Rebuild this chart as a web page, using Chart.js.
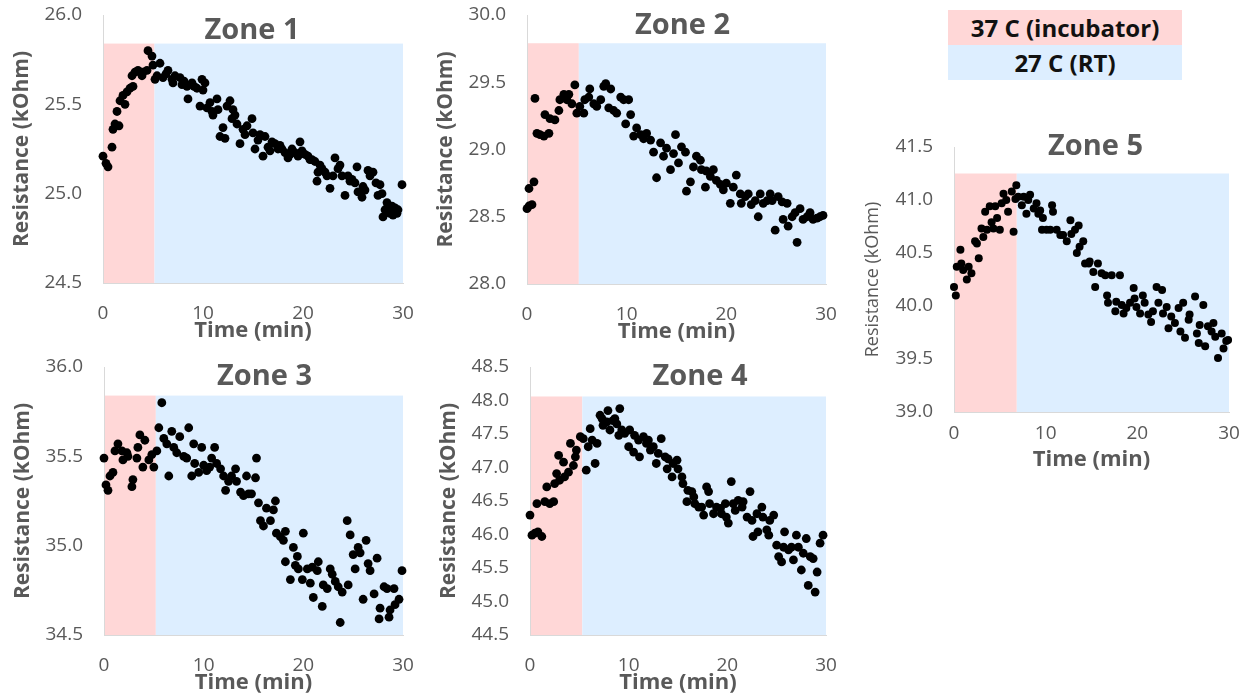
<!DOCTYPE html>
<html>
<head>
<meta charset="utf-8">
<script src="https://cdn.jsdelivr.net/npm/chart.js@4.4.1/dist/chart.umd.min.js"></script>
<style>
  html, body { margin: 0; padding: 0; background: #fff; }
  body { width: 1251px; height: 700px; position: relative; overflow: hidden; font-family: "Open Sans", sans-serif; }
  canvas { position: absolute; }
  .key { position: absolute; left: 948px; width: 234px; height: 35px; line-height: 35px;
         text-align: center; font-weight: bold; font-size: 24px; color: #111; }
</style>
</head>
<body>
<div class="key" style="top:10px;background:#FFD7D7">37 C (incubator)</div>
<div class="key" style="top:45px;background:#DDEEFF">27 C (RT)</div>
<script>
// Resistance readings [time (min), resistance (kOhm)] for each sensing zone
const zone1 = [
  [0.0,25.21],[0.3,25.17],[0.5,25.15],[0.9,25.26],[1.0,25.36],[1.2,25.39],[1.4,25.46],[1.6,25.38],
  [1.7,25.52],[2.0,25.55],[2.2,25.50],[2.4,25.57],[2.7,25.59],[2.9,25.66],[3.0,25.60],[3.2,25.68],
  [3.5,25.69],[3.9,25.66],[4.0,25.68],[4.4,25.69],[4.5,25.80],[4.9,25.77],[5.0,25.72],[5.2,25.64],
  [5.4,25.66],[5.7,25.73],[6.0,25.65],[6.3,25.67],[6.5,25.69],[6.9,25.64],[7.0,25.62],[7.2,25.66],
  [7.7,25.65],[7.9,25.61],[8.1,25.63],[8.4,25.60],[8.5,25.53],[8.9,25.62],[9.1,25.60],[9.4,25.59],
  [9.7,25.49],[9.9,25.64],[10.0,25.58],[10.2,25.62],[10.4,25.48],[10.7,25.51],[10.9,25.46],[11.0,25.44],
  [11.4,25.53],[11.5,25.47],[11.7,25.32],[12.0,25.37],[12.2,25.31],[12.4,25.49],[12.7,25.52],[12.9,25.42],
  [13.0,25.47],[13.2,25.44],[13.4,25.39],[13.7,25.28],[14.0,25.36],[14.2,25.33],[14.4,25.38],[14.9,25.42],
  [15.0,25.34],[15.2,25.25],[15.5,25.30],[15.7,25.33],[16.0,25.21],[16.2,25.32],[16.5,25.26],[16.7,25.24],
  [16.9,25.29],[17.2,25.28],[17.5,25.25],[17.7,25.27],[17.9,25.25],[18.2,25.23],[18.5,25.20],[18.7,25.22],
  [18.9,25.25],[19.2,25.23],[19.5,25.21],[19.7,25.29],[19.9,25.24],[20.2,25.22],[20.5,25.21],[20.7,25.19],
  [20.9,25.19],[21.2,25.18],[21.4,25.07],[21.5,25.12],[21.7,25.16],[21.9,25.14],[22.2,25.12],[22.4,25.10],
  [22.7,25.03],[23.0,25.10],[23.2,25.20],[23.5,25.14],[23.7,25.16],[23.9,25.10],[24.2,24.99],[24.5,25.10],
  [24.7,25.07],[24.9,25.08],[25.2,25.06],[25.4,25.15],[25.5,25.01],[25.9,24.98],[26.0,25.04],[26.2,25.02],
  [26.5,25.13],[26.7,25.10],[27.0,25.12],[27.3,25.06],[27.5,24.99],[27.7,25.05],[27.9,25.00],[28.0,24.87],
  [28.2,24.91],[28.4,24.95],[28.7,24.89],[28.9,24.93],[29.0,24.88],[29.2,24.92],[29.4,24.89],[29.5,24.91],
  [29.9,25.05]
];
const zone2 = [
  [0.0,28.56],[0.2,28.58],[0.5,28.59],[0.2,28.71],[0.7,28.76],[0.8,29.38],[1.0,29.12],[1.3,29.11],
  [1.7,29.10],[2.2,29.12],[1.8,29.26],[2.3,29.23],[2.8,29.22],[3.2,29.29],[3.3,29.37],[3.7,29.41],
  [4.0,29.37],[4.2,29.41],[4.5,29.34],[4.8,29.48],[5.0,29.27],[5.3,29.32],[5.7,29.27],[5.8,29.37],
  [6.2,29.39],[6.3,29.45],[6.7,29.34],[7.0,29.32],[7.4,29.37],[7.7,29.47],[7.9,29.49],[8.4,29.45],
  [8.2,29.31],[8.7,29.29],[9.0,29.27],[9.4,29.39],[9.7,29.37],[10.2,29.37],[9.9,29.19],[10.4,29.26],
  [10.7,29.10],[11.0,29.16],[11.4,29.11],[11.7,29.08],[12.0,29.12],[12.4,29.07],[12.7,28.98],[13.0,28.79],
  [13.4,29.05],[13.7,28.95],[14.0,29.01],[14.4,28.85],[14.7,28.97],[14.9,29.11],[15.2,28.90],[15.5,29.02],
  [15.9,28.98],[16.0,28.69],[16.4,28.76],[16.7,28.87],[17.0,28.95],[17.4,28.92],[17.5,28.85],[17.9,28.72],
  [18.0,28.84],[18.4,28.80],[18.7,28.85],[19.0,28.77],[19.4,28.74],[19.7,28.70],[20.0,28.75],[20.4,28.60],
  [20.7,28.72],[21.0,28.81],[21.4,28.67],[21.5,28.60],[21.9,28.65],[22.2,28.67],[22.5,28.59],[22.9,28.62],
  [23.2,28.50],[23.4,28.67],[23.7,28.60],[24.1,28.62],[24.4,28.67],[24.6,28.62],[24.9,28.40],[25.2,28.65],
  [25.6,28.61],[25.7,28.48],[26.1,28.60],[26.2,28.43],[26.6,28.50],[26.9,28.53],[27.1,28.31],[27.4,28.56],
  [27.7,28.48],[28.1,28.50],[28.4,28.53],[28.7,28.48],[29.1,28.49],[29.4,28.50],[29.7,28.51]
];
const zone3 = [
  [0.0,35.49],[0.2,35.34],[0.4,35.31],[0.6,35.39],[0.9,35.41],[1.1,35.53],[1.4,35.57],[1.8,35.53],
  [1.9,35.48],[2.3,35.52],[2.4,35.50],[2.8,35.33],[2.9,35.37],[3.3,35.49],[3.4,35.55],[3.6,35.62],
  [3.9,35.44],[4.1,35.59],[4.5,35.48],[4.8,35.51],[5.0,35.44],[5.3,35.53],[5.5,35.66],[5.8,35.80],
  [6.0,35.60],[6.3,35.57],[6.5,35.39],[6.8,35.64],[7.0,35.55],[7.3,35.52],[7.6,35.61],[8.0,35.50],
  [8.3,35.49],[8.5,35.66],[8.8,35.39],[9.0,35.57],[9.1,35.46],[9.5,35.41],[9.8,35.55],[10.0,35.45],
  [10.3,35.42],[10.6,35.44],[10.8,35.49],[11.1,35.55],[11.3,35.46],[11.7,35.43],[12.0,35.39],[12.2,35.31],
  [12.5,35.36],[12.8,35.39],[13.2,35.43],[13.3,35.36],[13.7,35.30],[14.0,35.28],[14.3,35.39],[14.5,35.29],
  [14.8,35.29],[15.2,35.38],[15.3,35.49],[15.5,35.24],[15.7,35.14],[16.0,35.11],[16.3,35.21],[16.7,35.14],
  [17.0,35.20],[17.2,35.25],[17.3,35.07],[17.7,35.05],[18.0,35.03],[18.2,35.08],[18.2,34.91],[18.7,34.81],
  [19.0,34.99],[19.4,34.94],[19.2,34.89],[19.5,34.87],[19.9,34.81],[20.0,35.07],[20.4,34.87],[20.7,34.79],
  [20.9,34.88],[21.0,34.71],[21.4,34.86],[21.5,34.91],[21.9,34.66],[22.0,34.78],[22.4,34.76],[22.7,34.87],
  [22.9,34.84],[23.2,34.80],[23.5,34.77],[23.9,34.74],[23.7,34.57],[24.4,35.14],[24.5,34.78],[24.7,35.06],
  [25.0,34.95],[25.2,34.87],[25.5,34.99],[25.7,34.96],[26.0,34.70],[26.3,35.03],[26.5,34.90],[26.7,34.86],
  [27.1,34.73],[27.4,34.93],[27.6,34.59],[27.7,34.65],[28.1,34.77],[28.4,34.76],[28.6,34.60],[28.7,34.64],
  [29.1,34.76],[29.2,34.67],[29.6,34.70],[29.9,34.86]
];
const zone4 = [
  [0.0,46.29],[0.2,45.99],[0.5,46.02],[0.7,46.46],[0.8,46.04],[1.2,45.97],[1.5,46.49],[1.7,46.71],
  [2.0,46.46],[2.4,46.49],[2.5,46.76],[2.7,46.91],[2.9,47.18],[3.0,46.81],[3.4,47.08],[3.5,46.86],
  [3.9,46.93],[4.1,47.36],[4.4,47.03],[4.6,47.16],[4.7,47.26],[5.1,47.46],[5.4,47.43],[5.7,46.96],
  [5.9,47.31],[6.1,47.58],[6.3,47.41],[6.6,47.06],[6.8,47.36],[7.1,47.78],[7.3,47.73],[7.4,47.63],
  [7.8,47.68],[7.9,47.85],[8.1,47.56],[8.4,47.70],[8.6,47.73],[8.8,47.65],[9.0,47.48],[9.1,47.88],
  [9.3,47.56],[9.6,47.51],[10.0,47.31],[10.1,47.56],[10.5,47.23],[10.6,47.48],[11.0,47.41],[11.1,47.16],
  [11.5,47.46],[11.8,47.36],[12.0,47.41],[12.2,47.26],[12.5,47.31],[12.8,47.06],[13.0,47.21],[13.3,47.43],
  [13.7,47.16],[13.9,46.98],[14.0,47.13],[14.4,46.86],[14.5,47.06],[14.9,47.11],[15.0,46.98],[15.4,46.86],
  [15.5,46.76],[15.9,46.49],[16.0,46.66],[16.4,46.64],[16.6,46.56],[16.7,46.46],[17.1,46.41],[17.4,46.41],
  [17.6,46.29],[17.9,46.71],[18.1,46.64],[18.2,46.46],[18.6,46.31],[18.9,46.41],[19.3,46.39],[19.4,46.31],
  [19.8,46.46],[19.9,46.26],[20.1,46.17],[20.4,46.79],[20.6,46.46],[20.8,46.36],[21.1,46.51],[21.5,46.41],
  [21.6,46.49],[22.0,46.26],[22.3,46.64],[22.5,46.21],[22.6,45.97],[23.0,46.31],[23.1,46.04],[23.5,46.41],
  [23.6,46.26],[24.0,46.07],[24.2,45.99],[24.3,46.21],[24.7,46.29],[25.0,45.84],[25.2,45.67],[25.5,45.59],
  [25.7,45.81],[25.8,46.04],[26.2,45.77],[26.5,45.81],[26.7,45.62],[27.0,45.99],[27.2,45.81],[27.5,45.47],
  [27.7,45.72],[28.0,45.94],[28.2,45.24],[28.4,45.67],[28.7,45.64],[28.9,45.14],[29.1,45.44],[29.4,45.87],
  [29.7,45.99]
];
const zone5 = [
  [0.0,40.18],[0.2,40.10],[0.3,40.37],[0.7,40.53],[0.8,40.40],[1.0,40.34],[1.4,40.25],[1.6,40.37],
  [1.9,40.31],[2.3,40.61],[2.5,40.59],[2.7,40.45],[3.0,40.73],[3.2,40.65],[3.4,40.89],[3.6,40.72],
  [3.9,40.94],[4.1,40.79],[4.3,40.73],[4.5,40.94],[4.7,40.83],[5.0,40.72],[5.2,40.97],[5.4,41.06],
  [5.7,41.00],[5.9,40.89],[6.3,41.08],[6.5,40.70],[6.7,41.01],[6.8,41.14],[7.0,41.03],[7.4,40.95],
  [7.6,41.03],[7.9,40.87],[8.1,41.00],[8.3,41.05],[8.7,40.92],[9.0,40.97],[9.2,40.87],[9.4,40.90],
  [9.7,40.83],[9.6,40.72],[10.1,40.72],[10.5,40.72],[10.7,40.95],[10.8,40.89],[11.2,40.72],[11.6,40.67],
  [11.9,40.67],[12.3,40.61],[12.7,40.81],[12.8,40.68],[13.2,40.72],[13.6,40.76],[13.4,40.50],[13.7,40.56],
  [14.1,40.61],[14.3,40.40],[14.7,40.40],[14.8,40.42],[15.2,40.32],[15.4,40.18],[15.7,40.40],[16.1,40.31],
  [16.5,40.29],[16.7,40.10],[16.8,40.03],[17.2,40.29],[17.6,39.95],[17.7,40.04],[18.1,40.29],[18.3,40.01],
  [18.5,39.93],[18.8,39.98],[19.2,40.03],[19.6,40.17],[19.7,40.07],[19.9,39.99],[20.3,39.93],[20.6,40.10],
  [20.8,40.03],[21.2,39.92],[21.5,39.85],[21.7,39.95],[22.1,40.18],[22.3,40.03],[22.7,40.15],[22.8,39.93],
  [23.2,39.99],[23.4,39.79],[23.7,39.90],[24.1,39.84],[24.5,39.98],[24.7,39.76],[25.0,40.03],[25.2,39.70],
  [25.6,39.87],[25.7,39.92],[26.3,40.09],[26.5,39.74],[26.7,39.65],[26.8,39.82],[27.2,40.01],[27.4,39.62],
  [27.7,39.81],[28.1,39.76],[28.3,39.84],[28.5,39.71],[28.8,39.51],[29.2,39.74],[29.4,39.60],[29.7,39.67],
  [29.9,39.68]
];

// Axis ranges, tick values and the incubator / room-temperature phases
const zoneTitles = ['Zone 1', 'Zone 2', 'Zone 3', 'Zone 4', 'Zone 5'];
const yMin = [24.5, 28.0, 34.5, 44.5, 39.0];
const yMax = [26.0, 30.0, 36.0, 48.5, 41.5];
const yStep = [0.5, 0.5, 0.5, 0.5, 0.5];
const xTicks = [0, 10, 20, 30];
const incubatorEnd = [5.15, 5.2, 5.2, 5.3, 6.85];   // minutes at 37 C
const phaseTop = [25.84, 29.79, 35.84, 48.06, 41.25]; // upper edge of the phase bands

const FONT = '"Open Sans", sans-serif';
const GREY = '#595959';
const WARM = '#FFD7D7';
const COOL = '#DDEEFF';
const AXIS_W = 100, AXIS_H = 62, PAD_T = 15, PAD_R = 25, PAD_B = 3;

// Page placement of each plot area
const frames = [
  { left: 103, top: 15,  w: 300, h: 268, tdx: -1, tdy: 16, tickPad: 19, yTitle: { size: 21, weight: 'bold', pad: 6 } },
  { left: 527, top: 15,  w: 299, h: 269, tdx: 6,  tdy: 11, tickPad: 19, yTitle: { size: 21, weight: 'bold', pad: 6 } },
  { left: 104, top: 367, w: 299, h: 268, tdx: 11, tdy: 10, tickPad: 19, yTitle: { size: 21, weight: 'bold', pad: 6 } },
  { left: 530, top: 367, w: 296, h: 268, tdx: 22, tdy: 10, tickPad: 19, yTitle: { size: 21, weight: 'bold', pad: 6 } },
  { left: 954, top: 147, w: 275, h: 265, tdx: 4,  tdy: 0,  tickPad: 10, yTitle: { size: 18, weight: 'normal', pad: 8 } }
];
const zones = [zone1, zone2, zone3, zone4, zone5];

// Pink band for the incubator phase, blue band for room temperature
const phaseBands = {
  id: 'phaseBands',
  beforeDraw(chart, args, opts) {
    const { ctx, scales: { x, y } } = chart;
    const x0 = x.getPixelForValue(x.min);
    const xs = x.getPixelForValue(opts.split);
    const x1 = x.getPixelForValue(x.max);
    const yt = y.getPixelForValue(opts.top);
    const yb = y.getPixelForValue(y.min);
    ctx.save();
    ctx.fillStyle = WARM;
    ctx.fillRect(x0, yt, xs - x0, yb - yt);
    ctx.fillStyle = COOL;
    ctx.fillRect(xs, yt, x1 - xs, yb - yt);
    ctx.restore();
  }
};

// Panel heading drawn inside the top of the plot area
const panelHeading = {
  id: 'panelHeading',
  afterDraw(chart, args, opts) {
    const { ctx, chartArea: a } = chart;
    ctx.save();
    ctx.font = 'bold 29px ' + FONT;
    ctx.fillStyle = GREY;
    ctx.textAlign = 'center';
    ctx.textBaseline = 'middle';
    ctx.fillText(opts.text, (a.left + a.right) / 2 + opts.dx, a.top + opts.dy);
    ctx.restore();
  }
};

zones.forEach((points, i) => {
  const f = frames[i];
  const canvas = document.createElement('canvas');
  canvas.width = AXIS_W + f.w + PAD_R;
  canvas.height = PAD_T + f.h + AXIS_H + PAD_B;
  canvas.style.left = (f.left - AXIS_W) + 'px';
  canvas.style.top = (f.top - PAD_T) + 'px';
  document.body.appendChild(canvas);

  new Chart(canvas, {
    type: 'scatter',
    data: {
      datasets: [{
        data: points.map(p => ({ x: p[0], y: p[1] })),
        backgroundColor: '#000',
        borderWidth: 0,
        pointRadius: i === 4 ? 4 : 4.4,
        clip: false
      }]
    },
    options: {
      responsive: false,
      animation: false,
      events: [],
      layout: { padding: { left: 0, top: PAD_T, right: PAD_R, bottom: PAD_B } },
      plugins: {
        legend: { display: false },
        tooltip: { enabled: false },
        phaseBands: { split: incubatorEnd[i], top: phaseTop[i] },
        panelHeading: { text: zoneTitles[i], dx: f.tdx, dy: f.tdy }
      },
      scales: {
        x: {
          type: 'linear',
          min: 0, max: 30,
          afterBuildTicks(s) { s.ticks = xTicks.map(v => ({ value: v })); },
          afterFit(s) { s.height = AXIS_H; s.paddingLeft = 0; s.paddingRight = 0; },
          grid: { display: false, drawTicks: false },
          border: { display: true, color: '#D9D9D9', width: 1 },
          ticks: { color: GREY, font: { family: FONT, size: 19 }, padding: f.tickPad, maxRotation: 0, autoSkip: false },
          title: { display: true, text: 'Time (min)', color: GREY,
                   font: { family: FONT, size: 22, weight: 'bold' }, padding: { top: 0, bottom: 1 } }
        },
        y: {
          type: 'linear',
          min: yMin[i], max: yMax[i],
          afterFit(s) { s.width = AXIS_W; s.paddingTop = 0; s.paddingBottom = 0; },
          grid: { display: false, drawTicks: false },
          border: { display: true, color: '#D9D9D9', width: 1 },
          ticks: { stepSize: yStep[i], autoSkip: false, color: GREY, padding: 21,
                   font: { family: FONT, size: 19 }, callback: v => Number(v).toFixed(1) },
          title: { display: true, text: 'Resistance (kOhm)', color: GREY,
                   font: { family: FONT, size: f.yTitle.size, weight: f.yTitle.weight },
                   padding: { top: f.yTitle.pad, bottom: 0 } }
        }
      }
    },
    plugins: [phaseBands, panelHeading]
  });
});
</script>
</body>
</html>
